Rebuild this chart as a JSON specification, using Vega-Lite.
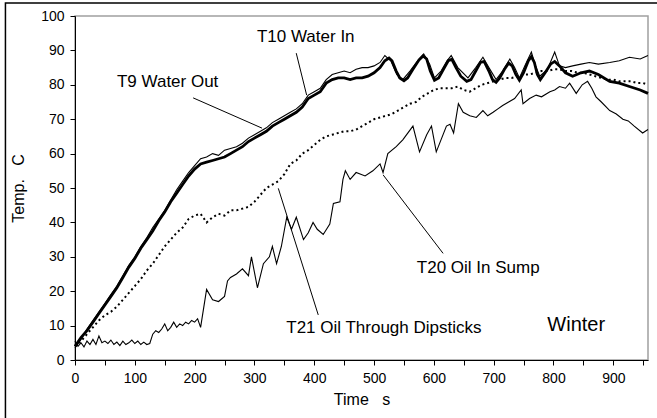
{
  "$schema": "https://vega.github.io/schema/vega-lite/v6.json",
  "autosize": "none",
  "width": 573,
  "height": 344,
  "padding": {"left": 75, "top": 16, "right": 9, "bottom": 58},
  "background": "white",
  "config": {
    "view": {"stroke": "#a0a0a0", "strokeWidth": 1.5},
    "font": "Liberation Sans",
    "axis": {
      "grid": false,
      "domainColor": "black",
      "tickColor": "black",
      "tickSize": 5,
      "labelColor": "black",
      "labelFont": "Liberation Sans",
      "labelFontSize": 14,
      "titleFont": "Liberation Sans",
      "titleFontSize": 16,
      "titleFontWeight": "normal",
      "titleColor": "black"
    }
  },
  "datasets": {
    "temps": [
      {"s":"T10","t":0,"v":4},{"s":"T10","t":10,"v":6.5},{"s":"T10","t":20,"v":8.5},{"s":"T10","t":30,"v":11},{"s":"T10","t":40,"v":13.5},{"s":"T10","t":50,"v":16},{"s":"T10","t":60,"v":18.5},{"s":"T10","t":70,"v":21},{"s":"T10","t":80,"v":24},{"s":"T10","t":90,"v":27},{"s":"T10","t":100,"v":29.5},{"s":"T10","t":110,"v":32.5},{"s":"T10","t":120,"v":35},{"s":"T10","t":130,"v":37.5},{"s":"T10","t":140,"v":40.5},{"s":"T10","t":150,"v":43},{"s":"T10","t":160,"v":46},{"s":"T10","t":170,"v":48.5},{"s":"T10","t":180,"v":51},{"s":"T10","t":190,"v":53.5},{"s":"T10","t":200,"v":55.5},{"s":"T10","t":210,"v":57},{"s":"T10","t":220,"v":57.5},{"s":"T10","t":230,"v":58},{"s":"T10","t":240,"v":58.5},{"s":"T10","t":250,"v":59},{"s":"T10","t":260,"v":60},{"s":"T10","t":270,"v":61},{"s":"T10","t":280,"v":62},{"s":"T10","t":290,"v":63.5},{"s":"T10","t":300,"v":64.5},{"s":"T10","t":310,"v":65.5},{"s":"T10","t":320,"v":66.5},{"s":"T10","t":330,"v":68},{"s":"T10","t":340,"v":69},{"s":"T10","t":350,"v":70},{"s":"T10","t":360,"v":71},{"s":"T10","t":370,"v":72},{"s":"T10","t":380,"v":73.5},{"s":"T10","t":390,"v":76},{"s":"T10","t":400,"v":77},{"s":"T10","t":410,"v":78},{"s":"T10","t":420,"v":80.5},{"s":"T10","t":430,"v":81.5},{"s":"T10","t":440,"v":82},{"s":"T10","t":450,"v":82},{"s":"T10","t":460,"v":81.5},{"s":"T10","t":470,"v":82},{"s":"T10","t":480,"v":82},{"s":"T10","t":490,"v":82.5},{"s":"T10","t":500,"v":83.5},{"s":"T10","t":510,"v":85},{"s":"T10","t":518,"v":87},{"s":"T10","t":525,"v":87.8},{"s":"T10","t":530,"v":87},{"s":"T10","t":537,"v":84},{"s":"T10","t":543,"v":82},{"s":"T10","t":550,"v":81.2},{"s":"T10","t":556,"v":82},{"s":"T10","t":565,"v":84.5},{"s":"T10","t":575,"v":87.2},{"s":"T10","t":582,"v":88.4},{"s":"T10","t":588,"v":87.5},{"s":"T10","t":594,"v":84},{"s":"T10","t":601,"v":81.3},{"s":"T10","t":608,"v":82},{"s":"T10","t":616,"v":84.5},{"s":"T10","t":624,"v":87},{"s":"T10","t":630,"v":87.4},{"s":"T10","t":637,"v":85},{"s":"T10","t":645,"v":82.5},{"s":"T10","t":655,"v":81},{"s":"T10","t":662,"v":81.5},{"s":"T10","t":670,"v":84},{"s":"T10","t":678,"v":86.5},{"s":"T10","t":684,"v":86.8},{"s":"T10","t":692,"v":84},{"s":"T10","t":698,"v":81.5},{"s":"T10","t":704,"v":80.7},{"s":"T10","t":710,"v":82},{"s":"T10","t":718,"v":84.5},{"s":"T10","t":725,"v":86.3},{"s":"T10","t":731,"v":85.5},{"s":"T10","t":737,"v":83},{"s":"T10","t":743,"v":81.3},{"s":"T10","t":750,"v":83.5},{"s":"T10","t":758,"v":87},{"s":"T10","t":763,"v":88.2},{"s":"T10","t":768,"v":86.5},{"s":"T10","t":773,"v":83},{"s":"T10","t":778,"v":81.5},{"s":"T10","t":786,"v":83.5},{"s":"T10","t":795,"v":86},{"s":"T10","t":802,"v":86.8},{"s":"T10","t":810,"v":85.5},{"s":"T10","t":820,"v":83.5},{"s":"T10","t":832,"v":82.5},{"s":"T10","t":846,"v":83.5},{"s":"T10","t":860,"v":84},{"s":"T10","t":875,"v":83},{"s":"T10","t":894,"v":81},{"s":"T10","t":910,"v":80.5},{"s":"T10","t":927,"v":79.5},{"s":"T10","t":945,"v":78.5},{"s":"T10","t":958,"v":77.5},

      {"s":"T9","t":0,"v":3.5},{"s":"T9","t":10,"v":6},{"s":"T9","t":20,"v":9},{"s":"T9","t":30,"v":11.5},{"s":"T9","t":40,"v":14},{"s":"T9","t":50,"v":16.5},{"s":"T9","t":60,"v":19},{"s":"T9","t":70,"v":21.5},{"s":"T9","t":80,"v":24.5},{"s":"T9","t":90,"v":27.5},{"s":"T9","t":100,"v":30},{"s":"T9","t":110,"v":33},{"s":"T9","t":120,"v":35.5},{"s":"T9","t":130,"v":38.5},{"s":"T9","t":140,"v":41},{"s":"T9","t":150,"v":43.5},{"s":"T9","t":160,"v":46.5},{"s":"T9","t":170,"v":49.5},{"s":"T9","t":180,"v":52},{"s":"T9","t":190,"v":54.5},{"s":"T9","t":200,"v":56.5},{"s":"T9","t":210,"v":58.5},{"s":"T9","t":220,"v":59},{"s":"T9","t":230,"v":60},{"s":"T9","t":240,"v":59.5},{"s":"T9","t":250,"v":61},{"s":"T9","t":260,"v":61.5},{"s":"T9","t":270,"v":62},{"s":"T9","t":280,"v":63},{"s":"T9","t":290,"v":64.5},{"s":"T9","t":300,"v":65.5},{"s":"T9","t":310,"v":66.5},{"s":"T9","t":320,"v":67.5},{"s":"T9","t":330,"v":69},{"s":"T9","t":340,"v":70},{"s":"T9","t":350,"v":71},{"s":"T9","t":360,"v":72},{"s":"T9","t":370,"v":73},{"s":"T9","t":380,"v":74.5},{"s":"T9","t":390,"v":77},{"s":"T9","t":400,"v":78},{"s":"T9","t":410,"v":79},{"s":"T9","t":420,"v":81.5},{"s":"T9","t":430,"v":83},{"s":"T9","t":440,"v":83.5},{"s":"T9","t":450,"v":84},{"s":"T9","t":460,"v":83.5},{"s":"T9","t":470,"v":84.5},{"s":"T9","t":480,"v":85},{"s":"T9","t":490,"v":85},{"s":"T9","t":500,"v":85.5},{"s":"T9","t":510,"v":86.5},{"s":"T9","t":518,"v":88.5},{"s":"T9","t":528,"v":87},{"s":"T9","t":538,"v":83},{"s":"T9","t":548,"v":81.5},{"s":"T9","t":560,"v":84},{"s":"T9","t":575,"v":87.5},{"s":"T9","t":583,"v":89},{"s":"T9","t":593,"v":86},{"s":"T9","t":601,"v":82},{"s":"T9","t":612,"v":84},{"s":"T9","t":622,"v":87},{"s":"T9","t":629,"v":88.5},{"s":"T9","t":640,"v":85},{"s":"T9","t":657,"v":82},{"s":"T9","t":670,"v":85},{"s":"T9","t":682,"v":88},{"s":"T9","t":692,"v":85},{"s":"T9","t":704,"v":81.5},{"s":"T9","t":715,"v":84},{"s":"T9","t":727,"v":87.5},{"s":"T9","t":735,"v":85},{"s":"T9","t":743,"v":82},{"s":"T9","t":752,"v":85.5},{"s":"T9","t":763,"v":89.5},{"s":"T9","t":770,"v":85.5},{"s":"T9","t":777,"v":82.5},{"s":"T9","t":790,"v":84.5},{"s":"T9","t":802,"v":89.5},{"s":"T9","t":810,"v":85.5},{"s":"T9","t":820,"v":85},{"s":"T9","t":832,"v":85.5},{"s":"T9","t":846,"v":86},{"s":"T9","t":860,"v":86.5},{"s":"T9","t":875,"v":86},{"s":"T9","t":894,"v":86.5},{"s":"T9","t":910,"v":87},{"s":"T9","t":927,"v":88},{"s":"T9","t":945,"v":87.5},{"s":"T9","t":958,"v":88.5},

      {"s":"T21","t":0,"v":4},{"s":"T21","t":10,"v":5.5},{"s":"T21","t":20,"v":7.5},{"s":"T21","t":30,"v":9.5},{"s":"T21","t":40,"v":11.5},{"s":"T21","t":50,"v":13},{"s":"T21","t":60,"v":14},{"s":"T21","t":70,"v":15.5},{"s":"T21","t":80,"v":17.5},{"s":"T21","t":90,"v":19.5},{"s":"T21","t":100,"v":21.5},{"s":"T21","t":110,"v":23.5},{"s":"T21","t":120,"v":26},{"s":"T21","t":130,"v":28},{"s":"T21","t":140,"v":30.5},{"s":"T21","t":150,"v":33},{"s":"T21","t":160,"v":35},{"s":"T21","t":170,"v":37},{"s":"T21","t":180,"v":38.5},{"s":"T21","t":190,"v":41},{"s":"T21","t":200,"v":42},{"s":"T21","t":210,"v":42.5},{"s":"T21","t":220,"v":40},{"s":"T21","t":230,"v":41.5},{"s":"T21","t":240,"v":42.5},{"s":"T21","t":250,"v":42},{"s":"T21","t":260,"v":43.5},{"s":"T21","t":270,"v":43.5},{"s":"T21","t":280,"v":44},{"s":"T21","t":290,"v":44.5},{"s":"T21","t":300,"v":46},{"s":"T21","t":310,"v":48},{"s":"T21","t":320,"v":50},{"s":"T21","t":330,"v":51},{"s":"T21","t":340,"v":52},{"s":"T21","t":350,"v":54},{"s":"T21","t":360,"v":57},{"s":"T21","t":370,"v":58},{"s":"T21","t":380,"v":60},{"s":"T21","t":390,"v":61},{"s":"T21","t":400,"v":62.5},{"s":"T21","t":410,"v":64},{"s":"T21","t":420,"v":65},{"s":"T21","t":430,"v":65.5},{"s":"T21","t":440,"v":66},{"s":"T21","t":450,"v":66.5},{"s":"T21","t":460,"v":66.5},{"s":"T21","t":470,"v":67},{"s":"T21","t":480,"v":68},{"s":"T21","t":490,"v":69},{"s":"T21","t":500,"v":70},{"s":"T21","t":510,"v":70.5},{"s":"T21","t":520,"v":71},{"s":"T21","t":530,"v":71.5},{"s":"T21","t":540,"v":72.5},{"s":"T21","t":550,"v":73.5},{"s":"T21","t":560,"v":74.5},{"s":"T21","t":570,"v":75},{"s":"T21","t":580,"v":76.5},{"s":"T21","t":590,"v":77.5},{"s":"T21","t":600,"v":78.5},{"s":"T21","t":610,"v":79},{"s":"T21","t":620,"v":79},{"s":"T21","t":630,"v":79},{"s":"T21","t":640,"v":79.5},{"s":"T21","t":650,"v":78.5},{"s":"T21","t":660,"v":78},{"s":"T21","t":670,"v":79},{"s":"T21","t":680,"v":80},{"s":"T21","t":690,"v":80.5},{"s":"T21","t":700,"v":81},{"s":"T21","t":710,"v":81.5},{"s":"T21","t":720,"v":82},{"s":"T21","t":730,"v":82},{"s":"T21","t":740,"v":82.5},{"s":"T21","t":750,"v":83},{"s":"T21","t":760,"v":83},{"s":"T21","t":770,"v":83.5},{"s":"T21","t":780,"v":84},{"s":"T21","t":790,"v":84},{"s":"T21","t":800,"v":84.5},{"s":"T21","t":810,"v":84.5},{"s":"T21","t":820,"v":84},{"s":"T21","t":830,"v":84},{"s":"T21","t":840,"v":83.5},{"s":"T21","t":850,"v":83.5},{"s":"T21","t":860,"v":83},{"s":"T21","t":870,"v":82.5},{"s":"T21","t":880,"v":82},{"s":"T21","t":890,"v":81.5},{"s":"T21","t":900,"v":81.5},{"s":"T21","t":910,"v":81},{"s":"T21","t":920,"v":81},{"s":"T21","t":930,"v":81},{"s":"T21","t":940,"v":80.5},{"s":"T21","t":950,"v":80.5},{"s":"T21","t":958,"v":80},

      {"s":"T20","t":0,"v":5.5},{"s":"T20","t":5,"v":4},{"s":"T20","t":10,"v":5},{"s":"T20","t":15,"v":3.8},{"s":"T20","t":20,"v":5.5},{"s":"T20","t":25,"v":4.5},{"s":"T20","t":30,"v":6},{"s":"T20","t":35,"v":4.5},{"s":"T20","t":40,"v":7},{"s":"T20","t":45,"v":5},{"s":"T20","t":50,"v":5.5},{"s":"T20","t":55,"v":4.8},{"s":"T20","t":60,"v":5.8},{"s":"T20","t":65,"v":4.5},{"s":"T20","t":70,"v":5.2},{"s":"T20","t":75,"v":4.2},{"s":"T20","t":80,"v":5.5},{"s":"T20","t":85,"v":4.5},{"s":"T20","t":90,"v":5},{"s":"T20","t":95,"v":5.8},{"s":"T20","t":100,"v":4.8},{"s":"T20","t":105,"v":5.5},{"s":"T20","t":110,"v":4.5},{"s":"T20","t":115,"v":5.2},{"s":"T20","t":120,"v":4.5},{"s":"T20","t":125,"v":4.8},{"s":"T20","t":130,"v":7.5},{"s":"T20","t":135,"v":8.5},{"s":"T20","t":140,"v":8},{"s":"T20","t":145,"v":9},{"s":"T20","t":150,"v":10.5},{"s":"T20","t":155,"v":8.5},{"s":"T20","t":160,"v":9.5},{"s":"T20","t":165,"v":11},{"s":"T20","t":170,"v":9.5},{"s":"T20","t":175,"v":10.5},{"s":"T20","t":180,"v":10},{"s":"T20","t":185,"v":11},{"s":"T20","t":190,"v":10.5},{"s":"T20","t":195,"v":11.5},{"s":"T20","t":200,"v":11},{"s":"T20","t":205,"v":12},{"s":"T20","t":210,"v":9.5},{"s":"T20","t":220,"v":20.5},{"s":"T20","t":230,"v":17.5},{"s":"T20","t":240,"v":17},{"s":"T20","t":250,"v":18.5},{"s":"T20","t":255,"v":23},{"s":"T20","t":260,"v":24},{"s":"T20","t":270,"v":25},{"s":"T20","t":280,"v":26.5},{"s":"T20","t":290,"v":24.5},{"s":"T20","t":295,"v":30},{"s":"T20","t":305,"v":21},{"s":"T20","t":315,"v":28},{"s":"T20","t":325,"v":30},{"s":"T20","t":330,"v":33},{"s":"T20","t":337,"v":28},{"s":"T20","t":345,"v":33},{"s":"T20","t":354,"v":41.5},{"s":"T20","t":362,"v":38},{"s":"T20","t":370,"v":41.5},{"s":"T20","t":382,"v":35},{"s":"T20","t":390,"v":37},{"s":"T20","t":398,"v":40},{"s":"T20","t":405,"v":38},{"s":"T20","t":415,"v":36.5},{"s":"T20","t":426,"v":39.5},{"s":"T20","t":432,"v":45.5},{"s":"T20","t":443,"v":46},{"s":"T20","t":448,"v":52.5},{"s":"T20","t":452,"v":55},{"s":"T20","t":460,"v":52.5},{"s":"T20","t":470,"v":54.5},{"s":"T20","t":485,"v":53.5},{"s":"T20","t":498,"v":55},{"s":"T20","t":510,"v":57},{"s":"T20","t":515,"v":54.5},{"s":"T20","t":523,"v":60},{"s":"T20","t":537,"v":62},{"s":"T20","t":548,"v":64},{"s":"T20","t":565,"v":68},{"s":"T20","t":576,"v":60.5},{"s":"T20","t":588,"v":65.5},{"s":"T20","t":596,"v":68},{"s":"T20","t":604,"v":60.5},{"s":"T20","t":621,"v":68},{"s":"T20","t":627,"v":68.5},{"s":"T20","t":633,"v":66},{"s":"T20","t":641,"v":74.5},{"s":"T20","t":649,"v":72},{"s":"T20","t":660,"v":71},{"s":"T20","t":671,"v":70.5},{"s":"T20","t":682,"v":72.5},{"s":"T20","t":690,"v":71},{"s":"T20","t":699,"v":72},{"s":"T20","t":707,"v":73},{"s":"T20","t":715,"v":74},{"s":"T20","t":725,"v":75},{"s":"T20","t":735,"v":76},{"s":"T20","t":746,"v":78.5},{"s":"T20","t":749,"v":74.5},{"s":"T20","t":760,"v":76},{"s":"T20","t":771,"v":77},{"s":"T20","t":780,"v":76.5},{"s":"T20","t":794,"v":78},{"s":"T20","t":802,"v":78.5},{"s":"T20","t":810,"v":79.5},{"s":"T20","t":820,"v":79},{"s":"T20","t":827,"v":80.5},{"s":"T20","t":838,"v":77.5},{"s":"T20","t":848,"v":80},{"s":"T20","t":857,"v":81},{"s":"T20","t":864,"v":79},{"s":"T20","t":871,"v":76.5},{"s":"T20","t":880,"v":75},{"s":"T20","t":894,"v":72.5},{"s":"T20","t":905,"v":71.5},{"s":"T20","t":916,"v":70},{"s":"T20","t":925,"v":69.5},{"s":"T20","t":935,"v":68},{"s":"T20","t":949,"v":66},{"s":"T20","t":958,"v":67}
    ],
    "notes": [
      {"label":"T10 Water In","tx":385.8,"ty":94,"x1":369.9,"y1":89.2,"x2":387.3,"y2":77.0},
      {"label":"T9 Water Out","tx":154.9,"ty":80.8,"x1":197.5,"y1":76.2,"x2":312.7,"y2":67.4},
      {"label":"T21 Oil Through Dipsticks","tx":516.4,"ty":9.3,"x1":406.7,"y1":13.1,"x2":339.9,"y2":49.9},
      {"label":"T20 Oil In Sump","tx":674.1,"ty":26.7,"x1":615.4,"y1":31.0,"x2":515.2,"y2":53.8}
    ],
    "season": [{"label":"Winter","tx":838,"ty":10.2}],
    "frame": [{"x1":-116.3,"x2":1100,"y1":103.8,"y2":-40}]
  },
  "data": {"name": "temps"},
  "encoding": {
    "x": {"field": "t", "type": "quantitative",
      "scale": {"domain": [0, 958], "nice": false, "zero": false},
      "axis": {"title": "Time\u00a0\u00a0\u00a0s", "values": [0,50,100,150,200,250,300,350,400,450,500,550,600,650,700,750,800,850,900,950],
        "labelExpr": "datum.value % 100 === 0 ? datum.label : ''", "labelPadding": 6, "titlePadding": 6, "labelFlush": false}},
    "y": {"field": "v", "type": "quantitative",
      "scale": {"domain": [0, 100], "nice": false},
      "axis": {"title": "Temp.\u00a0\u00a0\u00a0C", "values": [0,10,20,30,40,50,60,70,80,90,100], "labelPadding": 6, "titlePadding": 14}}
  },
  "layer": [
    {
      "transform": [{"filter": "datum.s === 'T9' || datum.s === 'T20'"}],
      "mark": {"type": "line", "color": "black", "strokeWidth": 1.1},
      "encoding": {"detail": {"field": "s"}}
    },
    {
      "transform": [{"filter": "datum.s === 'T21'"}],
      "mark": {"type": "line", "color": "black", "strokeWidth": 2, "strokeDash": [2, 3]}
    },
    {
      "transform": [{"filter": "datum.s === 'T10'"}],
      "mark": {"type": "line", "color": "black", "strokeWidth": 2.8}
    },
    {
      "data": {"name": "notes"},
      "mark": {"type": "rule", "color": "black", "strokeWidth": 1},
      "encoding": {
        "x": {"field": "x1", "type": "quantitative"},
        "y": {"field": "y1", "type": "quantitative"},
        "x2": {"field": "x2"},
        "y2": {"field": "y2"}
      }
    },
    {
      "data": {"name": "notes"},
      "mark": {"type": "text", "font": "Liberation Sans", "fontSize": 17, "color": "black", "align": "center", "baseline": "middle"},
      "encoding": {
        "x": {"field": "tx", "type": "quantitative"},
        "y": {"field": "ty", "type": "quantitative"},
        "text": {"field": "label"}
      }
    },
    {
      "data": {"name": "season"},
      "mark": {"type": "text", "font": "Liberation Sans", "fontSize": 20, "color": "black", "align": "center", "baseline": "middle"},
      "encoding": {
        "x": {"field": "tx", "type": "quantitative"},
        "y": {"field": "ty", "type": "quantitative"},
        "text": {"field": "label"}
      }
    },
    {
      "data": {"name": "frame"},
      "mark": {"type": "rect", "fill": null, "stroke": "black", "strokeWidth": 1.5, "clip": false},
      "encoding": {
        "x": {"field": "x1", "type": "quantitative"},
        "x2": {"field": "x2"},
        "y": {"field": "y1", "type": "quantitative"},
        "y2": {"field": "y2"}
      }
    }
  ]
}
